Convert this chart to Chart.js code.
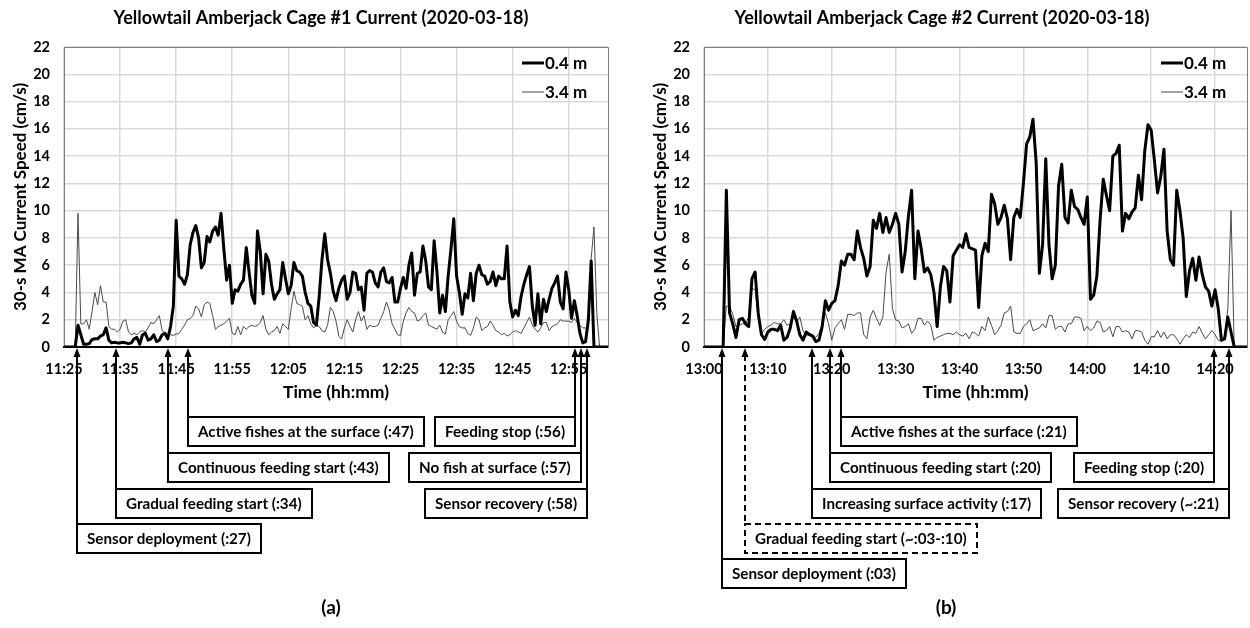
<!DOCTYPE html>
<html><head><meta charset="utf-8">
<script src="https://cdn.jsdelivr.net/npm/chart.js@4.4.1/dist/chart.umd.min.js"></script>
<style>
html,body{margin:0;padding:0;background:#fff;width:1250px;height:628px;overflow:hidden}
canvas{position:absolute;top:0}
#cA{left:0}
#cB{left:640px}
</style></head><body>
<canvas id="cA" width="640" height="628"></canvas>
<canvas id="cB" width="610" height="628"></canvas>
<script>
// ---------------- data ----------------
const seriesLabels = ['0.4 m', '3.4 m'];
const titleA = 'Yellowtail Amberjack Cage #1 Current (2020-03-18)';
const titleB = 'Yellowtail Amberjack Cage #2 Current (2020-03-18)';
const yTitle = '30-s MA Current Speed (cm/s)';
const xTitle = 'Time (hh:mm)';
const yTickValues = [0, 2, 4, 6, 8, 10, 12, 14, 16, 18, 20, 22];
const xTicksA = ['11:25','11:35','11:45','11:55','12:05','12:15','12:25','12:35','12:45','12:55'];
const xTicksB = ['13:00','13:10','13:20','13:30','13:40','13:50','14:00','14:10','14:20'];
const rangeA = ['11:25', '13:02'];
const rangeB = ['13:00', '14:25'];
const sampleStepMin = 0.5;   // one value every 30 s, starting at the range start

// Cage #1, 0.4 m
const speedA04 = [
 0,0,0,0,0,1.6,0.9,0.2,0.2,0.25,
 0.55,0.6,0.6,0.8,0.9,1.4,0.5,0.3,0.35,0.3,
 0.3,0.35,0.3,0.25,0.3,0.6,0.7,0.2,0.9,1.0,
 0.5,0.6,0.9,0.4,0.5,0.9,1.0,0.6,1.5,3.0,
 9.3,5.2,5.0,4.6,5.3,7.5,8.4,8.9,8.0,5.8,
 6.2,8.1,7.7,8.5,8.8,8.2,9.8,7.2,4.9,6.0,
 3.2,4.2,4.1,4.6,4.9,7.3,5.5,3.8,3.2,8.5,
 7.0,3.9,6.8,6.3,4.6,3.5,3.9,4.2,6.2,5.0,
 3.9,4.5,6.2,5.6,5.5,5.2,4.0,3.2,3.0,1.8,
 1.6,3.7,6.4,8.3,6.4,5.4,4.1,3.4,4.3,4.9,
 5.2,3.5,4.0,5.5,5.4,4.2,4.4,2.7,5.4,5.6,
 5.5,4.7,4.4,5.5,5.8,4.8,4.7,5.1,3.3,3.3,
 4.3,5.1,4.3,6.0,6.9,3.8,5.4,5.5,7.4,6.3,
 4.4,4.2,7.8,5.5,2.5,3.8,2.6,5.2,7.2,9.4,
 5.2,4.0,2.4,3.9,3.6,5.4,3.4,5.4,6.0,5.3,
 5.2,4.6,4.8,5.5,4.5,5.2,5.0,5.0,7.4,3.3,
 2.2,2.7,2.3,3.7,4.6,5.3,5.9,3.0,1.6,3.9,
 1.7,3.5,2.6,3.5,4.3,4.7,5.2,3.3,2.8,5.5,
 4.2,2.1,3.4,2.3,1.0,0.3,0.4,2.0,6.3,0,
 0,0,0,0,0
];
// Cage #1, 3.4 m
const speedA34 = [
 0,0,0,0,0,9.8,1.7,1.7,2.0,1.3,
 2.6,4.0,3.1,4.5,3.3,3.3,1.5,1.3,1.3,1.1,
 1.3,1.9,2.0,1.1,0.9,1.0,0.9,1.1,1.2,1.1,
 1.4,1.8,1.7,2.0,2.3,1.2,1.0,0.9,0.9,0.85,
 0.95,1.0,1.3,1.6,2.0,2.1,2.3,3.0,2.8,2.2,
 3.1,3.3,3.2,2.3,1.3,1.5,1.6,1.7,1.9,2.1,
 1.0,0.9,1.5,0.9,1.5,1.3,1.5,1.6,1.5,1.6,
 1.8,2.3,1.3,0.9,1.1,1.2,1.5,1.0,1.7,1.5,
 1.3,2.8,4.1,3.2,3.1,3.0,2.0,2.3,1.7,1.4,
 1.6,1.5,1.2,1.1,1.6,2.9,2.6,1.9,0.8,0.6,
 1.4,2.0,1.5,1.1,2.0,2.6,1.9,2.3,1.3,1.6,
 1.5,1.5,1.6,2.1,2.6,3.3,2.7,1.7,1.3,0.9,
 0.85,1.9,2.5,2.9,2.6,2.5,1.9,2.0,2.3,2.5,
 1.6,1.5,1.4,1.3,1.6,1.1,0.95,2.0,2.3,2.6,
 1.9,1.5,1.4,1.4,1.0,0.85,1.4,2.2,2.0,1.2,
 1.4,1.5,1.9,1.6,1.2,1.1,0.9,1.0,0.8,0.9,
 1.1,1.2,1.1,1.0,1.4,1.8,2.2,1.6,1.3,1.1,
 1.4,1.8,1.8,1.2,1.5,1.6,1.7,2.0,1.9,1.9,
 1.9,1.8,2.1,1.8,1.6,1.4,1.4,1.4,6.5,8.8,
 2.5,0,0,0,0
];
// Cage #2, 0.4 m
const speedB04 = [
 0,0,0,0,0,0,0,11.5,2.5,1.7,
 0.7,2.0,2.1,1.7,1.5,5.0,5.5,2.4,0.9,0.55,
 1.1,1.3,1.3,1.2,1.6,0.5,0.7,1.4,2.6,1.9,
 0.9,0.5,1.1,0.9,0.8,0.4,0.5,1.5,3.4,2.7,
 3.2,3.4,4.5,6.3,6.0,6.8,6.8,6.4,8.5,7.3,
 6.5,5.2,5.9,9.3,8.7,9.8,8.4,9.5,8.4,9.0,
 9.8,9.0,5.5,7.0,9.6,11.5,5.0,8.5,7.2,5.5,
 5.8,5.3,4.0,1.5,4.4,5.9,5.6,3.3,6.7,7.1,
 7.5,7.3,8.3,7.3,7.2,7.1,2.9,6.7,7.6,7.0,
 11.2,10.5,9.0,9.5,10.4,9.4,6.4,9.5,10.1,9.5,
 12.0,14.9,15.4,16.7,13.5,5.4,7.5,13.8,7.5,5.0,
 6.0,11.8,13.4,9.5,9.1,11.5,10.3,10.1,9.5,9.0,
 11.0,3.5,3.8,5.2,9.3,12.3,11.1,10.0,14.0,14.2,
 14.8,8.5,9.8,9.4,9.9,10.2,12.6,10.8,14.4,16.3,
 15.9,13.7,11.3,12.5,14.5,8.5,6.4,6.0,11.5,10.0,
 8.0,3.7,5.6,6.5,4.9,6.6,5.3,4.4,4.1,3.0,
 4.2,2.8,0.5,0.6,2.2,1.1,0,0,0,0,
 0
];
// Cage #2, 3.4 m
const speedB34 = [
 0,0,0,0,0,0,0,3.0,3.0,2.4,
 1.5,1.6,1.7,1.7,2.2,4.3,4.2,2.2,1.0,1.3,
 1.5,1.6,1.8,1.7,1.7,2.0,1.6,1.7,2.2,1.8,
 2.2,1.2,0.8,1.0,0.9,0.7,1.0,1.7,2.5,1.7,
 0.5,1.4,1.7,2.0,1.3,2.4,2.4,2.3,2.5,2.5,
 0.9,0.6,2.2,2.7,2.1,1.6,2.2,5.5,6.8,2.8,
 2.0,1.9,1.4,1.5,1.7,1.0,1.3,2.1,2.1,1.6,
 1.9,1.6,0.5,0.7,0.8,0.9,1.0,1.0,0.9,1.1,
 0.9,0.8,1.0,0.6,1.1,1.0,0.8,1.5,1.2,2.2,
 1.6,0.9,1.2,1.6,2.5,2.6,3.0,1.1,1.0,1.0,
 1.5,1.7,2.0,1.2,1.3,1.4,1.7,1.4,2.3,2.3,
 1.3,1.5,1.5,1.1,1.7,1.7,2.2,2.2,2.1,1.2,
 1.5,1.2,1.4,1.9,1.8,1.1,1.2,1.5,0.75,1.5,
 1.5,1.1,1.2,1.1,0.6,1.2,1.2,1.1,0.5,0.2,
 0.75,0.75,1.2,0.7,1.1,0.6,0.9,0.9,0.6,0.2,
 0.6,0.9,0.7,1.1,1.0,1.5,1.0,0.6,0.9,1.2,
 0.9,0.5,0.4,0.8,2.8,10.0,0,0,0,0,
 0
];

// event annotations
const eventLabelsA = ['Active fishes at the surface (:47)','Feeding stop (:56)','Continuous feeding start (:43)',
  'No fish at surface (:57)','Gradual feeding start (:34)','Sensor recovery (:58)','Sensor deployment (:27)'];
const eventTimesA = ['11:47.1','12:56.1','11:43.5','12:57.1','11:34.3','12:58.2','11:27.3'];
const eventLabelsB = ['Active fishes at the surface (:21)','Continuous feeding start (:20)','Feeding stop (:20)',
  'Increasing surface activity (:17)','Sensor recovery (~:21)','Gradual feeding start (~:03-:10)','Sensor deployment (:03)'];
const eventTimesB = ['13:21.4','13:19.7','14:19.8','13:16.9','14:22.2','13:06.4','13:02.8'];

// ---------------- layout / style ----------------
const FONT = 'Lato, "Open Sans", sans-serif';
const SZ = {title: 18, yTitle: 17, xTitle: 17.5, tick: 14.5, legend: 17, ann: 15.2, panel: 19};
const ROWS = [417, 453, 489, 524, 559];
const layoutA = [
  {row:0, side:'left'}, {row:0, side:'right'}, {row:1, side:'left'}, {row:1, side:'right'},
  {row:2, side:'left'}, {row:2, side:'right'}, {row:3, side:'left'}];
const layoutB = [
  {row:0, side:'left'}, {row:1, side:'left'}, {row:1, side:'right'}, {row:2, side:'left'},
  {row:2, side:'right'}, {row:3, side:'left', dashed:true}, {row:4, side:'left'}];

function toMin(s) { const p = s.split(':'); return (+p[0]) * 60 + parseFloat(p[1]); }
function fmt(v) { const h = Math.floor(v / 60 + 1e-9); const m = Math.round(v - h * 60); return h + ':' + String(m).padStart(2, '0'); }
function points(start, values) { const t0 = toMin(start); return values.map((v, i) => ({x: t0 + i * sampleStepMin, y: v})); }

const decor = {
  id: 'decor',
  afterDraw(chart, args, o) {
    const {ctx, chartArea: ca, scales: {x}} = chart;
    ctx.save();
    // top / right frame
    ctx.strokeStyle = '#7f7f7f'; ctx.lineWidth = 1;
    ctx.beginPath();
    ctx.moveTo(ca.left, Math.round(ca.top) + 0.5);
    ctx.lineTo(Math.round(ca.right) + 0.5, Math.round(ca.top) + 0.5);
    ctx.lineTo(Math.round(ca.right) + 0.5, ca.bottom);
    ctx.stroke();
    // title & panel label
    ctx.fillStyle = '#000'; ctx.textAlign = 'center'; ctx.textBaseline = 'middle';
    ctx.font = `bold ${SZ.title}px ${FONT}`;
    ctx.fillText(o.title, o.titleX, 18);
    ctx.font = `bold ${SZ.panel}px ${FONT}`;
    ctx.fillText(o.panel, o.panelX, 608);
    // legend (inside plot, top right)
    ctx.font = `bold ${SZ.legend}px ${FONT}`; ctx.textAlign = 'left';
    chart.data.datasets.forEach((ds, i) => {
      const y = Math.round(ca.top + 16 + i * 29);
      const x0 = Math.round(ca.right - 86);
      ctx.strokeStyle = ds.borderColor; ctx.lineWidth = ds.borderWidth;
      ctx.beginPath(); ctx.moveTo(x0, y); ctx.lineTo(x0 + 22, y); ctx.stroke();
      ctx.fillText(ds.label, x0 + 23, y + 1);
    });
    // event annotations
    ctx.font = `bold ${SZ.ann}px ${FONT}`;
    ctx.strokeStyle = '#000'; ctx.fillStyle = '#000'; ctx.lineWidth = 2;
    o.labels.forEach((lab, i) => {
      const L = o.layout[i];
      const px = Math.round(x.getPixelForValue(toMin(o.times[i])));
      const top = ROWS[L.row], h = 29;
      const w = Math.round(ctx.measureText(lab).width + 20);
      const bx = L.side === 'left' ? px : px - w;
      ctx.setLineDash(L.dashed ? [6, 4] : []);
      ctx.beginPath(); ctx.moveTo(px, ca.bottom + 8); ctx.lineTo(px, top); ctx.stroke();
      ctx.strokeRect(bx, top, w, h);
      ctx.setLineDash([]);
      ctx.beginPath();
      ctx.moveTo(px, ca.bottom + 1); ctx.lineTo(px - 3.5, ca.bottom + 10); ctx.lineTo(px + 3.5, ca.bottom + 10);
      ctx.closePath(); ctx.fill();
      ctx.textAlign = 'left'; ctx.textBaseline = 'middle';
      ctx.fillText(lab, bx + 10, top + h / 2 + 1);
    });
    ctx.restore();
  }
};

function makeChart(id, range, xTicks, s04, s34, deco, padRight) {
  const font = (size) => ({family: FONT, size: size, weight: 'bold'});
  return new Chart(document.getElementById(id), {
    type: 'line',
    data: {
      datasets: [
        {label: seriesLabels[0], data: points(range[0], s04), borderColor: '#000', borderWidth: 3,
         pointRadius: 0, tension: 0, fill: false, borderJoinStyle: 'round'},
        {label: seriesLabels[1], data: points(range[0], s34), borderColor: '#4a4a4a', borderWidth: 1,
         pointRadius: 0, tension: 0, fill: false}
      ]
    },
    options: {
      responsive: false, animation: false, devicePixelRatio: 1,
      layout: {padding: {left: 0, right: padRight, top: 47, bottom: 221}},
      plugins: {legend: {display: false}, title: {display: false}, tooltip: {enabled: false}, decor: deco},
      scales: {
        x: {
          type: 'linear', min: toMin(range[0]), max: toMin(range[1]),
          afterBuildTicks: (s) => { s.ticks = xTicks.map(t => ({value: toMin(t)})); },
          afterFit: (s) => { s.height = 60; },
          ticks: {font: font(SZ.tick), color: '#000', padding: 14, maxRotation: 0, autoSkip: false, callback: (v) => fmt(v)},
          grid: {color: '#d9d9d9', lineWidth: 1.5, drawTicks: false},
          border: {display: true, color: '#000', width: 2},
          title: {display: true, text: xTitle, font: font(SZ.xTitle), color: '#000', padding: {top: 0, bottom: 4}}
        },
        y: {
          min: 0, max: 22,
          afterBuildTicks: (s) => { s.ticks = yTickValues.map(v => ({value: v})); },
          afterFit: (s) => { s.width = 64; },
          ticks: {font: font(SZ.tick), color: '#000', padding: 14},
          grid: {color: '#d9d9d9', lineWidth: 1.5, drawTicks: false},
          border: {display: true, color: '#7f7f7f', width: 1},
          title: {display: true, text: yTitle, font: font(SZ.yTitle), color: '#000', padding: {top: 10, bottom: 0}}
        }
      }
    },
    plugins: [decor]
  });
}

makeChart('cA', rangeA, xTicksA, speedA04, speedA34,
  {title: titleA, titleX: 321, panel: '(a)', panelX: 331, labels: eventLabelsA, times: eventTimesA, layout: layoutA}, 32);
makeChart('cB', rangeB, xTicksB, speedB04, speedB34,
  {title: titleB, titleX: 302, panel: '(b)', panelX: 306, labels: eventLabelsB, times: eventTimesB, layout: layoutB}, 3);
</script>
</body></html>
